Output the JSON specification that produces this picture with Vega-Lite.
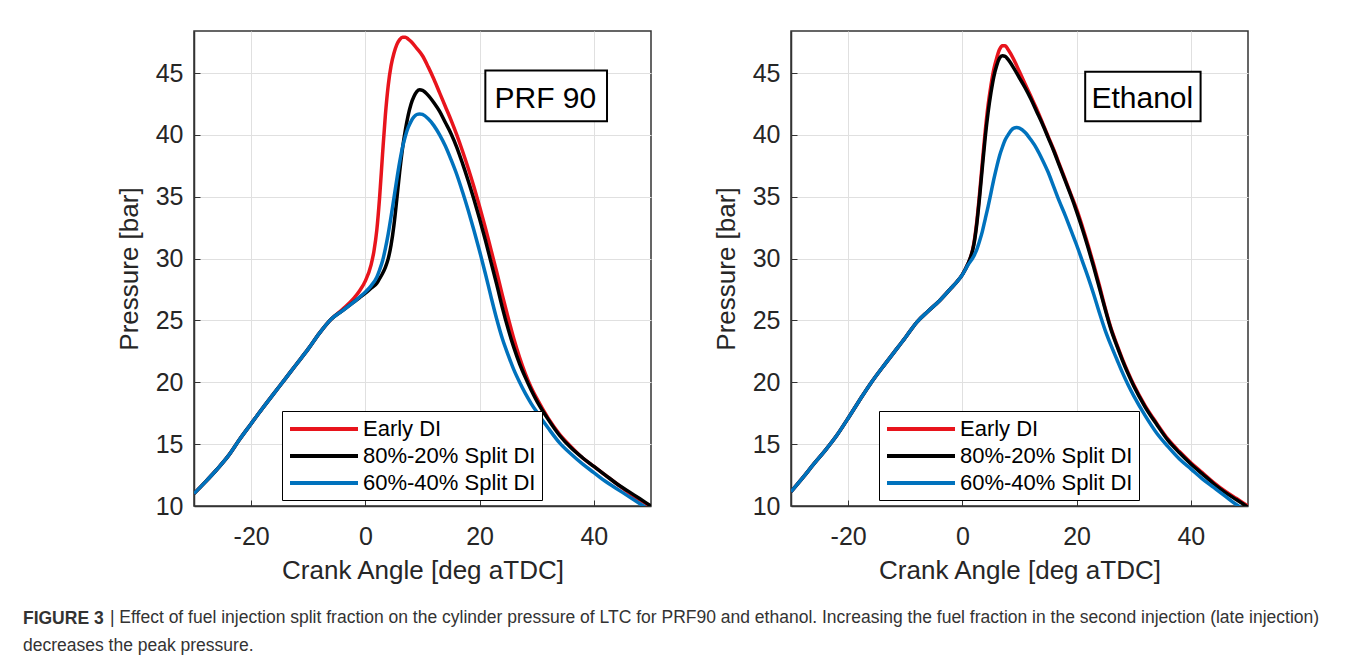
{
  "$schema": "https://vega.github.io/schema/vega-lite/v6.json",
  "padding": {"left": 22, "top": 30, "right": 4, "bottom": 5},
  "background": "white",
  "title": {
    "text": "decreases the peak pressure.",
    "orient": "bottom", "anchor": "start", "frame": "bounds", "offset": 10,
    "font": "Liberation Sans", "fontSize": 17.5, "fontWeight": "normal", "color": "#333333"
  },
  "datasets": {
    "pressure": [
      {"fuel": "PRF 90", "injection": "Early DI", "angle": -30, "pressure": 11.0},
      {"fuel": "PRF 90", "injection": "Early DI", "angle": -28, "pressure": 11.95},
      {"fuel": "PRF 90", "injection": "Early DI", "angle": -26, "pressure": 12.95},
      {"fuel": "PRF 90", "injection": "Early DI", "angle": -24, "pressure": 14.05},
      {"fuel": "PRF 90", "injection": "Early DI", "angle": -22, "pressure": 15.4},
      {"fuel": "PRF 90", "injection": "Early DI", "angle": -20, "pressure": 16.65},
      {"fuel": "PRF 90", "injection": "Early DI", "angle": -18, "pressure": 17.9},
      {"fuel": "PRF 90", "injection": "Early DI", "angle": -16, "pressure": 19.1},
      {"fuel": "PRF 90", "injection": "Early DI", "angle": -14, "pressure": 20.3},
      {"fuel": "PRF 90", "injection": "Early DI", "angle": -12, "pressure": 21.5},
      {"fuel": "PRF 90", "injection": "Early DI", "angle": -10, "pressure": 22.7},
      {"fuel": "PRF 90", "injection": "Early DI", "angle": -8, "pressure": 24.0},
      {"fuel": "PRF 90", "injection": "Early DI", "angle": -6, "pressure": 25.1},
      {"fuel": "PRF 90", "injection": "Early DI", "angle": -4, "pressure": 25.9},
      {"fuel": "PRF 90", "injection": "Early DI", "angle": -2, "pressure": 26.8},
      {"fuel": "PRF 90", "injection": "Early DI", "angle": -1, "pressure": 27.4},
      {"fuel": "PRF 90", "injection": "Early DI", "angle": 0, "pressure": 28.2},
      {"fuel": "PRF 90", "injection": "Early DI", "angle": 1, "pressure": 29.5},
      {"fuel": "PRF 90", "injection": "Early DI", "angle": 1.5, "pressure": 30.6},
      {"fuel": "PRF 90", "injection": "Early DI", "angle": 2, "pressure": 32.3},
      {"fuel": "PRF 90", "injection": "Early DI", "angle": 2.5, "pressure": 35.0},
      {"fuel": "PRF 90", "injection": "Early DI", "angle": 3, "pressure": 38.4},
      {"fuel": "PRF 90", "injection": "Early DI", "angle": 3.5, "pressure": 41.6},
      {"fuel": "PRF 90", "injection": "Early DI", "angle": 4, "pressure": 44.0},
      {"fuel": "PRF 90", "injection": "Early DI", "angle": 4.5, "pressure": 45.6},
      {"fuel": "PRF 90", "injection": "Early DI", "angle": 5, "pressure": 46.6},
      {"fuel": "PRF 90", "injection": "Early DI", "angle": 5.5, "pressure": 47.3},
      {"fuel": "PRF 90", "injection": "Early DI", "angle": 6, "pressure": 47.7},
      {"fuel": "PRF 90", "injection": "Early DI", "angle": 6.5, "pressure": 47.9},
      {"fuel": "PRF 90", "injection": "Early DI", "angle": 7, "pressure": 47.9},
      {"fuel": "PRF 90", "injection": "Early DI", "angle": 7.5, "pressure": 47.75},
      {"fuel": "PRF 90", "injection": "Early DI", "angle": 8, "pressure": 47.55},
      {"fuel": "PRF 90", "injection": "Early DI", "angle": 9, "pressure": 47.0},
      {"fuel": "PRF 90", "injection": "Early DI", "angle": 10, "pressure": 46.4},
      {"fuel": "PRF 90", "injection": "Early DI", "angle": 11, "pressure": 45.5},
      {"fuel": "PRF 90", "injection": "Early DI", "angle": 12, "pressure": 44.5},
      {"fuel": "PRF 90", "injection": "Early DI", "angle": 13, "pressure": 43.4},
      {"fuel": "PRF 90", "injection": "Early DI", "angle": 14, "pressure": 42.3},
      {"fuel": "PRF 90", "injection": "Early DI", "angle": 15, "pressure": 41.2},
      {"fuel": "PRF 90", "injection": "Early DI", "angle": 16, "pressure": 40.0},
      {"fuel": "PRF 90", "injection": "Early DI", "angle": 17, "pressure": 38.7},
      {"fuel": "PRF 90", "injection": "Early DI", "angle": 18, "pressure": 37.3},
      {"fuel": "PRF 90", "injection": "Early DI", "angle": 19, "pressure": 35.8},
      {"fuel": "PRF 90", "injection": "Early DI", "angle": 20, "pressure": 34.2},
      {"fuel": "PRF 90", "injection": "Early DI", "angle": 21, "pressure": 32.5},
      {"fuel": "PRF 90", "injection": "Early DI", "angle": 22, "pressure": 30.7},
      {"fuel": "PRF 90", "injection": "Early DI", "angle": 23, "pressure": 28.9},
      {"fuel": "PRF 90", "injection": "Early DI", "angle": 24, "pressure": 27.0},
      {"fuel": "PRF 90", "injection": "Early DI", "angle": 25, "pressure": 25.2},
      {"fuel": "PRF 90", "injection": "Early DI", "angle": 26, "pressure": 23.5},
      {"fuel": "PRF 90", "injection": "Early DI", "angle": 27, "pressure": 22.0},
      {"fuel": "PRF 90", "injection": "Early DI", "angle": 28, "pressure": 20.7},
      {"fuel": "PRF 90", "injection": "Early DI", "angle": 29, "pressure": 19.6},
      {"fuel": "PRF 90", "injection": "Early DI", "angle": 30, "pressure": 18.7},
      {"fuel": "PRF 90", "injection": "Early DI", "angle": 32, "pressure": 17.1},
      {"fuel": "PRF 90", "injection": "Early DI", "angle": 34, "pressure": 15.8},
      {"fuel": "PRF 90", "injection": "Early DI", "angle": 36, "pressure": 14.8},
      {"fuel": "PRF 90", "injection": "Early DI", "angle": 38, "pressure": 13.9},
      {"fuel": "PRF 90", "injection": "Early DI", "angle": 40, "pressure": 13.2},
      {"fuel": "PRF 90", "injection": "Early DI", "angle": 42, "pressure": 12.5},
      {"fuel": "PRF 90", "injection": "Early DI", "angle": 44, "pressure": 11.8},
      {"fuel": "PRF 90", "injection": "Early DI", "angle": 46, "pressure": 11.1},
      {"fuel": "PRF 90", "injection": "Early DI", "angle": 48, "pressure": 10.5},
      {"fuel": "PRF 90", "injection": "Early DI", "angle": 50, "pressure": 9.95},

      {"fuel": "PRF 90", "injection": "80%-20% Split DI", "angle": -30, "pressure": 11.0},
      {"fuel": "PRF 90", "injection": "80%-20% Split DI", "angle": -28, "pressure": 11.95},
      {"fuel": "PRF 90", "injection": "80%-20% Split DI", "angle": -26, "pressure": 12.95},
      {"fuel": "PRF 90", "injection": "80%-20% Split DI", "angle": -24, "pressure": 14.05},
      {"fuel": "PRF 90", "injection": "80%-20% Split DI", "angle": -22, "pressure": 15.4},
      {"fuel": "PRF 90", "injection": "80%-20% Split DI", "angle": -20, "pressure": 16.65},
      {"fuel": "PRF 90", "injection": "80%-20% Split DI", "angle": -18, "pressure": 17.9},
      {"fuel": "PRF 90", "injection": "80%-20% Split DI", "angle": -16, "pressure": 19.1},
      {"fuel": "PRF 90", "injection": "80%-20% Split DI", "angle": -14, "pressure": 20.3},
      {"fuel": "PRF 90", "injection": "80%-20% Split DI", "angle": -12, "pressure": 21.5},
      {"fuel": "PRF 90", "injection": "80%-20% Split DI", "angle": -10, "pressure": 22.7},
      {"fuel": "PRF 90", "injection": "80%-20% Split DI", "angle": -8, "pressure": 24.0},
      {"fuel": "PRF 90", "injection": "80%-20% Split DI", "angle": -6, "pressure": 25.1},
      {"fuel": "PRF 90", "injection": "80%-20% Split DI", "angle": -4, "pressure": 25.8},
      {"fuel": "PRF 90", "injection": "80%-20% Split DI", "angle": -2, "pressure": 26.5},
      {"fuel": "PRF 90", "injection": "80%-20% Split DI", "angle": -1, "pressure": 26.85},
      {"fuel": "PRF 90", "injection": "80%-20% Split DI", "angle": 0, "pressure": 27.2},
      {"fuel": "PRF 90", "injection": "80%-20% Split DI", "angle": 1, "pressure": 27.6},
      {"fuel": "PRF 90", "injection": "80%-20% Split DI", "angle": 2, "pressure": 28.0},
      {"fuel": "PRF 90", "injection": "80%-20% Split DI", "angle": 2.5, "pressure": 28.4},
      {"fuel": "PRF 90", "injection": "80%-20% Split DI", "angle": 3, "pressure": 28.8},
      {"fuel": "PRF 90", "injection": "80%-20% Split DI", "angle": 3.5, "pressure": 29.3},
      {"fuel": "PRF 90", "injection": "80%-20% Split DI", "angle": 4, "pressure": 30.0},
      {"fuel": "PRF 90", "injection": "80%-20% Split DI", "angle": 4.5, "pressure": 31.1},
      {"fuel": "PRF 90", "injection": "80%-20% Split DI", "angle": 5, "pressure": 32.7},
      {"fuel": "PRF 90", "injection": "80%-20% Split DI", "angle": 5.5, "pressure": 34.8},
      {"fuel": "PRF 90", "injection": "80%-20% Split DI", "angle": 6, "pressure": 37.0},
      {"fuel": "PRF 90", "injection": "80%-20% Split DI", "angle": 6.5, "pressure": 38.9},
      {"fuel": "PRF 90", "injection": "80%-20% Split DI", "angle": 7, "pressure": 40.4},
      {"fuel": "PRF 90", "injection": "80%-20% Split DI", "angle": 7.5, "pressure": 41.6},
      {"fuel": "PRF 90", "injection": "80%-20% Split DI", "angle": 8, "pressure": 42.5},
      {"fuel": "PRF 90", "injection": "80%-20% Split DI", "angle": 8.5, "pressure": 43.1},
      {"fuel": "PRF 90", "injection": "80%-20% Split DI", "angle": 9, "pressure": 43.5},
      {"fuel": "PRF 90", "injection": "80%-20% Split DI", "angle": 9.5, "pressure": 43.65},
      {"fuel": "PRF 90", "injection": "80%-20% Split DI", "angle": 10, "pressure": 43.6},
      {"fuel": "PRF 90", "injection": "80%-20% Split DI", "angle": 11, "pressure": 43.2},
      {"fuel": "PRF 90", "injection": "80%-20% Split DI", "angle": 12, "pressure": 42.6},
      {"fuel": "PRF 90", "injection": "80%-20% Split DI", "angle": 13, "pressure": 41.9},
      {"fuel": "PRF 90", "injection": "80%-20% Split DI", "angle": 14, "pressure": 41.0},
      {"fuel": "PRF 90", "injection": "80%-20% Split DI", "angle": 15, "pressure": 40.1},
      {"fuel": "PRF 90", "injection": "80%-20% Split DI", "angle": 16, "pressure": 39.0},
      {"fuel": "PRF 90", "injection": "80%-20% Split DI", "angle": 17, "pressure": 37.7},
      {"fuel": "PRF 90", "injection": "80%-20% Split DI", "angle": 18, "pressure": 36.3},
      {"fuel": "PRF 90", "injection": "80%-20% Split DI", "angle": 19, "pressure": 34.8},
      {"fuel": "PRF 90", "injection": "80%-20% Split DI", "angle": 20, "pressure": 33.2},
      {"fuel": "PRF 90", "injection": "80%-20% Split DI", "angle": 21, "pressure": 31.5},
      {"fuel": "PRF 90", "injection": "80%-20% Split DI", "angle": 22, "pressure": 29.7},
      {"fuel": "PRF 90", "injection": "80%-20% Split DI", "angle": 23, "pressure": 27.9},
      {"fuel": "PRF 90", "injection": "80%-20% Split DI", "angle": 24, "pressure": 26.0},
      {"fuel": "PRF 90", "injection": "80%-20% Split DI", "angle": 25, "pressure": 24.3},
      {"fuel": "PRF 90", "injection": "80%-20% Split DI", "angle": 26, "pressure": 22.8},
      {"fuel": "PRF 90", "injection": "80%-20% Split DI", "angle": 27, "pressure": 21.5},
      {"fuel": "PRF 90", "injection": "80%-20% Split DI", "angle": 28, "pressure": 20.4},
      {"fuel": "PRF 90", "injection": "80%-20% Split DI", "angle": 29, "pressure": 19.4},
      {"fuel": "PRF 90", "injection": "80%-20% Split DI", "angle": 30, "pressure": 18.5},
      {"fuel": "PRF 90", "injection": "80%-20% Split DI", "angle": 32, "pressure": 17.0},
      {"fuel": "PRF 90", "injection": "80%-20% Split DI", "angle": 34, "pressure": 15.7},
      {"fuel": "PRF 90", "injection": "80%-20% Split DI", "angle": 36, "pressure": 14.7},
      {"fuel": "PRF 90", "injection": "80%-20% Split DI", "angle": 38, "pressure": 13.9},
      {"fuel": "PRF 90", "injection": "80%-20% Split DI", "angle": 40, "pressure": 13.2},
      {"fuel": "PRF 90", "injection": "80%-20% Split DI", "angle": 42, "pressure": 12.5},
      {"fuel": "PRF 90", "injection": "80%-20% Split DI", "angle": 44, "pressure": 11.8},
      {"fuel": "PRF 90", "injection": "80%-20% Split DI", "angle": 46, "pressure": 11.2},
      {"fuel": "PRF 90", "injection": "80%-20% Split DI", "angle": 48, "pressure": 10.6},
      {"fuel": "PRF 90", "injection": "80%-20% Split DI", "angle": 50, "pressure": 10.0},

      {"fuel": "PRF 90", "injection": "60%-40% Split DI", "angle": -30, "pressure": 11.0},
      {"fuel": "PRF 90", "injection": "60%-40% Split DI", "angle": -28, "pressure": 11.95},
      {"fuel": "PRF 90", "injection": "60%-40% Split DI", "angle": -26, "pressure": 12.95},
      {"fuel": "PRF 90", "injection": "60%-40% Split DI", "angle": -24, "pressure": 14.05},
      {"fuel": "PRF 90", "injection": "60%-40% Split DI", "angle": -22, "pressure": 15.4},
      {"fuel": "PRF 90", "injection": "60%-40% Split DI", "angle": -20, "pressure": 16.65},
      {"fuel": "PRF 90", "injection": "60%-40% Split DI", "angle": -18, "pressure": 17.9},
      {"fuel": "PRF 90", "injection": "60%-40% Split DI", "angle": -16, "pressure": 19.1},
      {"fuel": "PRF 90", "injection": "60%-40% Split DI", "angle": -14, "pressure": 20.3},
      {"fuel": "PRF 90", "injection": "60%-40% Split DI", "angle": -12, "pressure": 21.5},
      {"fuel": "PRF 90", "injection": "60%-40% Split DI", "angle": -10, "pressure": 22.7},
      {"fuel": "PRF 90", "injection": "60%-40% Split DI", "angle": -8, "pressure": 24.0},
      {"fuel": "PRF 90", "injection": "60%-40% Split DI", "angle": -6, "pressure": 25.1},
      {"fuel": "PRF 90", "injection": "60%-40% Split DI", "angle": -4, "pressure": 25.8},
      {"fuel": "PRF 90", "injection": "60%-40% Split DI", "angle": -2, "pressure": 26.5},
      {"fuel": "PRF 90", "injection": "60%-40% Split DI", "angle": -1, "pressure": 26.9},
      {"fuel": "PRF 90", "injection": "60%-40% Split DI", "angle": 0, "pressure": 27.3},
      {"fuel": "PRF 90", "injection": "60%-40% Split DI", "angle": 1, "pressure": 27.8},
      {"fuel": "PRF 90", "injection": "60%-40% Split DI", "angle": 2, "pressure": 28.5},
      {"fuel": "PRF 90", "injection": "60%-40% Split DI", "angle": 2.5, "pressure": 29.1},
      {"fuel": "PRF 90", "injection": "60%-40% Split DI", "angle": 3, "pressure": 29.8},
      {"fuel": "PRF 90", "injection": "60%-40% Split DI", "angle": 3.5, "pressure": 30.8},
      {"fuel": "PRF 90", "injection": "60%-40% Split DI", "angle": 4, "pressure": 32.0},
      {"fuel": "PRF 90", "injection": "60%-40% Split DI", "angle": 4.5, "pressure": 33.4},
      {"fuel": "PRF 90", "injection": "60%-40% Split DI", "angle": 5, "pressure": 34.9},
      {"fuel": "PRF 90", "injection": "60%-40% Split DI", "angle": 5.5, "pressure": 36.4},
      {"fuel": "PRF 90", "injection": "60%-40% Split DI", "angle": 6, "pressure": 37.8},
      {"fuel": "PRF 90", "injection": "60%-40% Split DI", "angle": 6.5, "pressure": 39.0},
      {"fuel": "PRF 90", "injection": "60%-40% Split DI", "angle": 7, "pressure": 39.9},
      {"fuel": "PRF 90", "injection": "60%-40% Split DI", "angle": 7.5, "pressure": 40.6},
      {"fuel": "PRF 90", "injection": "60%-40% Split DI", "angle": 8, "pressure": 41.1},
      {"fuel": "PRF 90", "injection": "60%-40% Split DI", "angle": 8.5, "pressure": 41.45},
      {"fuel": "PRF 90", "injection": "60%-40% Split DI", "angle": 9, "pressure": 41.65},
      {"fuel": "PRF 90", "injection": "60%-40% Split DI", "angle": 9.5, "pressure": 41.7},
      {"fuel": "PRF 90", "injection": "60%-40% Split DI", "angle": 10, "pressure": 41.65},
      {"fuel": "PRF 90", "injection": "60%-40% Split DI", "angle": 11, "pressure": 41.3},
      {"fuel": "PRF 90", "injection": "60%-40% Split DI", "angle": 12, "pressure": 40.75},
      {"fuel": "PRF 90", "injection": "60%-40% Split DI", "angle": 13, "pressure": 40.0},
      {"fuel": "PRF 90", "injection": "60%-40% Split DI", "angle": 14, "pressure": 39.1},
      {"fuel": "PRF 90", "injection": "60%-40% Split DI", "angle": 15, "pressure": 38.0},
      {"fuel": "PRF 90", "injection": "60%-40% Split DI", "angle": 16, "pressure": 36.8},
      {"fuel": "PRF 90", "injection": "60%-40% Split DI", "angle": 17, "pressure": 35.4},
      {"fuel": "PRF 90", "injection": "60%-40% Split DI", "angle": 18, "pressure": 33.9},
      {"fuel": "PRF 90", "injection": "60%-40% Split DI", "angle": 19, "pressure": 32.3},
      {"fuel": "PRF 90", "injection": "60%-40% Split DI", "angle": 20, "pressure": 30.6},
      {"fuel": "PRF 90", "injection": "60%-40% Split DI", "angle": 21, "pressure": 28.8},
      {"fuel": "PRF 90", "injection": "60%-40% Split DI", "angle": 22, "pressure": 26.9},
      {"fuel": "PRF 90", "injection": "60%-40% Split DI", "angle": 23, "pressure": 25.1},
      {"fuel": "PRF 90", "injection": "60%-40% Split DI", "angle": 24, "pressure": 23.5},
      {"fuel": "PRF 90", "injection": "60%-40% Split DI", "angle": 25, "pressure": 22.2},
      {"fuel": "PRF 90", "injection": "60%-40% Split DI", "angle": 26, "pressure": 21.0},
      {"fuel": "PRF 90", "injection": "60%-40% Split DI", "angle": 27, "pressure": 20.0},
      {"fuel": "PRF 90", "injection": "60%-40% Split DI", "angle": 28, "pressure": 19.1},
      {"fuel": "PRF 90", "injection": "60%-40% Split DI", "angle": 29, "pressure": 18.3},
      {"fuel": "PRF 90", "injection": "60%-40% Split DI", "angle": 30, "pressure": 17.6},
      {"fuel": "PRF 90", "injection": "60%-40% Split DI", "angle": 32, "pressure": 16.3},
      {"fuel": "PRF 90", "injection": "60%-40% Split DI", "angle": 34, "pressure": 15.1},
      {"fuel": "PRF 90", "injection": "60%-40% Split DI", "angle": 36, "pressure": 14.2},
      {"fuel": "PRF 90", "injection": "60%-40% Split DI", "angle": 38, "pressure": 13.4},
      {"fuel": "PRF 90", "injection": "60%-40% Split DI", "angle": 40, "pressure": 12.7},
      {"fuel": "PRF 90", "injection": "60%-40% Split DI", "angle": 42, "pressure": 12.0},
      {"fuel": "PRF 90", "injection": "60%-40% Split DI", "angle": 44, "pressure": 11.4},
      {"fuel": "PRF 90", "injection": "60%-40% Split DI", "angle": 46, "pressure": 10.8},
      {"fuel": "PRF 90", "injection": "60%-40% Split DI", "angle": 48, "pressure": 10.2},
      {"fuel": "PRF 90", "injection": "60%-40% Split DI", "angle": 50, "pressure": 9.6},

      {"fuel": "Ethanol", "injection": "Early DI", "angle": -30, "pressure": 11.15},
      {"fuel": "Ethanol", "injection": "Early DI", "angle": -28, "pressure": 12.25},
      {"fuel": "Ethanol", "injection": "Early DI", "angle": -26, "pressure": 13.4},
      {"fuel": "Ethanol", "injection": "Early DI", "angle": -24, "pressure": 14.5},
      {"fuel": "Ethanol", "injection": "Early DI", "angle": -22, "pressure": 15.7},
      {"fuel": "Ethanol", "injection": "Early DI", "angle": -20, "pressure": 17.1},
      {"fuel": "Ethanol", "injection": "Early DI", "angle": -18, "pressure": 18.55},
      {"fuel": "Ethanol", "injection": "Early DI", "angle": -16, "pressure": 19.95},
      {"fuel": "Ethanol", "injection": "Early DI", "angle": -14, "pressure": 21.2},
      {"fuel": "Ethanol", "injection": "Early DI", "angle": -12, "pressure": 22.4},
      {"fuel": "Ethanol", "injection": "Early DI", "angle": -10, "pressure": 23.6},
      {"fuel": "Ethanol", "injection": "Early DI", "angle": -8, "pressure": 24.85},
      {"fuel": "Ethanol", "injection": "Early DI", "angle": -6, "pressure": 25.75},
      {"fuel": "Ethanol", "injection": "Early DI", "angle": -4, "pressure": 26.6},
      {"fuel": "Ethanol", "injection": "Early DI", "angle": -2, "pressure": 27.6},
      {"fuel": "Ethanol", "injection": "Early DI", "angle": -1, "pressure": 28.1},
      {"fuel": "Ethanol", "injection": "Early DI", "angle": 0, "pressure": 28.7},
      {"fuel": "Ethanol", "injection": "Early DI", "angle": 1, "pressure": 29.6},
      {"fuel": "Ethanol", "injection": "Early DI", "angle": 1.5, "pressure": 30.2},
      {"fuel": "Ethanol", "injection": "Early DI", "angle": 2, "pressure": 31.2},
      {"fuel": "Ethanol", "injection": "Early DI", "angle": 2.5, "pressure": 32.9},
      {"fuel": "Ethanol", "injection": "Early DI", "angle": 3, "pressure": 35.2},
      {"fuel": "Ethanol", "injection": "Early DI", "angle": 3.5, "pressure": 37.8},
      {"fuel": "Ethanol", "injection": "Early DI", "angle": 4, "pressure": 40.3},
      {"fuel": "Ethanol", "injection": "Early DI", "angle": 4.5, "pressure": 42.4},
      {"fuel": "Ethanol", "injection": "Early DI", "angle": 5, "pressure": 44.0},
      {"fuel": "Ethanol", "injection": "Early DI", "angle": 5.5, "pressure": 45.3},
      {"fuel": "Ethanol", "injection": "Early DI", "angle": 6, "pressure": 46.2},
      {"fuel": "Ethanol", "injection": "Early DI", "angle": 6.5, "pressure": 46.9},
      {"fuel": "Ethanol", "injection": "Early DI", "angle": 7, "pressure": 47.2},
      {"fuel": "Ethanol", "injection": "Early DI", "angle": 7.5, "pressure": 47.2},
      {"fuel": "Ethanol", "injection": "Early DI", "angle": 8, "pressure": 46.9},
      {"fuel": "Ethanol", "injection": "Early DI", "angle": 9, "pressure": 46.1},
      {"fuel": "Ethanol", "injection": "Early DI", "angle": 10, "pressure": 45.1},
      {"fuel": "Ethanol", "injection": "Early DI", "angle": 11, "pressure": 44.1},
      {"fuel": "Ethanol", "injection": "Early DI", "angle": 12, "pressure": 43.1},
      {"fuel": "Ethanol", "injection": "Early DI", "angle": 13, "pressure": 42.1},
      {"fuel": "Ethanol", "injection": "Early DI", "angle": 14, "pressure": 41.0},
      {"fuel": "Ethanol", "injection": "Early DI", "angle": 15, "pressure": 39.9},
      {"fuel": "Ethanol", "injection": "Early DI", "angle": 16, "pressure": 38.8},
      {"fuel": "Ethanol", "injection": "Early DI", "angle": 17, "pressure": 37.6},
      {"fuel": "Ethanol", "injection": "Early DI", "angle": 18, "pressure": 36.4},
      {"fuel": "Ethanol", "injection": "Early DI", "angle": 19, "pressure": 35.2},
      {"fuel": "Ethanol", "injection": "Early DI", "angle": 20, "pressure": 34.0},
      {"fuel": "Ethanol", "injection": "Early DI", "angle": 21, "pressure": 32.6},
      {"fuel": "Ethanol", "injection": "Early DI", "angle": 22, "pressure": 31.1},
      {"fuel": "Ethanol", "injection": "Early DI", "angle": 23, "pressure": 29.5},
      {"fuel": "Ethanol", "injection": "Early DI", "angle": 24, "pressure": 27.8},
      {"fuel": "Ethanol", "injection": "Early DI", "angle": 25, "pressure": 26.0},
      {"fuel": "Ethanol", "injection": "Early DI", "angle": 26, "pressure": 24.4},
      {"fuel": "Ethanol", "injection": "Early DI", "angle": 27, "pressure": 23.1},
      {"fuel": "Ethanol", "injection": "Early DI", "angle": 28, "pressure": 21.9},
      {"fuel": "Ethanol", "injection": "Early DI", "angle": 29, "pressure": 20.8},
      {"fuel": "Ethanol", "injection": "Early DI", "angle": 30, "pressure": 19.8},
      {"fuel": "Ethanol", "injection": "Early DI", "angle": 32, "pressure": 18.1},
      {"fuel": "Ethanol", "injection": "Early DI", "angle": 34, "pressure": 16.7},
      {"fuel": "Ethanol", "injection": "Early DI", "angle": 36, "pressure": 15.4},
      {"fuel": "Ethanol", "injection": "Early DI", "angle": 38, "pressure": 14.4},
      {"fuel": "Ethanol", "injection": "Early DI", "angle": 40, "pressure": 13.5},
      {"fuel": "Ethanol", "injection": "Early DI", "angle": 42, "pressure": 12.7},
      {"fuel": "Ethanol", "injection": "Early DI", "angle": 44, "pressure": 11.9},
      {"fuel": "Ethanol", "injection": "Early DI", "angle": 46, "pressure": 11.2},
      {"fuel": "Ethanol", "injection": "Early DI", "angle": 48, "pressure": 10.6},
      {"fuel": "Ethanol", "injection": "Early DI", "angle": 50, "pressure": 10.0},

      {"fuel": "Ethanol", "injection": "80%-20% Split DI", "angle": -30, "pressure": 11.15},
      {"fuel": "Ethanol", "injection": "80%-20% Split DI", "angle": -28, "pressure": 12.25},
      {"fuel": "Ethanol", "injection": "80%-20% Split DI", "angle": -26, "pressure": 13.4},
      {"fuel": "Ethanol", "injection": "80%-20% Split DI", "angle": -24, "pressure": 14.5},
      {"fuel": "Ethanol", "injection": "80%-20% Split DI", "angle": -22, "pressure": 15.7},
      {"fuel": "Ethanol", "injection": "80%-20% Split DI", "angle": -20, "pressure": 17.1},
      {"fuel": "Ethanol", "injection": "80%-20% Split DI", "angle": -18, "pressure": 18.55},
      {"fuel": "Ethanol", "injection": "80%-20% Split DI", "angle": -16, "pressure": 19.95},
      {"fuel": "Ethanol", "injection": "80%-20% Split DI", "angle": -14, "pressure": 21.2},
      {"fuel": "Ethanol", "injection": "80%-20% Split DI", "angle": -12, "pressure": 22.4},
      {"fuel": "Ethanol", "injection": "80%-20% Split DI", "angle": -10, "pressure": 23.6},
      {"fuel": "Ethanol", "injection": "80%-20% Split DI", "angle": -8, "pressure": 24.85},
      {"fuel": "Ethanol", "injection": "80%-20% Split DI", "angle": -6, "pressure": 25.75},
      {"fuel": "Ethanol", "injection": "80%-20% Split DI", "angle": -4, "pressure": 26.6},
      {"fuel": "Ethanol", "injection": "80%-20% Split DI", "angle": -2, "pressure": 27.6},
      {"fuel": "Ethanol", "injection": "80%-20% Split DI", "angle": -1, "pressure": 28.1},
      {"fuel": "Ethanol", "injection": "80%-20% Split DI", "angle": 0, "pressure": 28.7},
      {"fuel": "Ethanol", "injection": "80%-20% Split DI", "angle": 1, "pressure": 29.6},
      {"fuel": "Ethanol", "injection": "80%-20% Split DI", "angle": 1.5, "pressure": 30.2},
      {"fuel": "Ethanol", "injection": "80%-20% Split DI", "angle": 2, "pressure": 31.1},
      {"fuel": "Ethanol", "injection": "80%-20% Split DI", "angle": 2.5, "pressure": 32.7},
      {"fuel": "Ethanol", "injection": "80%-20% Split DI", "angle": 3, "pressure": 34.9},
      {"fuel": "Ethanol", "injection": "80%-20% Split DI", "angle": 3.5, "pressure": 37.4},
      {"fuel": "Ethanol", "injection": "80%-20% Split DI", "angle": 4, "pressure": 39.8},
      {"fuel": "Ethanol", "injection": "80%-20% Split DI", "angle": 4.5, "pressure": 41.8},
      {"fuel": "Ethanol", "injection": "80%-20% Split DI", "angle": 5, "pressure": 43.4},
      {"fuel": "Ethanol", "injection": "80%-20% Split DI", "angle": 5.5, "pressure": 44.7},
      {"fuel": "Ethanol", "injection": "80%-20% Split DI", "angle": 6, "pressure": 45.6},
      {"fuel": "Ethanol", "injection": "80%-20% Split DI", "angle": 6.5, "pressure": 46.2},
      {"fuel": "Ethanol", "injection": "80%-20% Split DI", "angle": 7, "pressure": 46.4},
      {"fuel": "Ethanol", "injection": "80%-20% Split DI", "angle": 7.5, "pressure": 46.35},
      {"fuel": "Ethanol", "injection": "80%-20% Split DI", "angle": 8, "pressure": 46.1},
      {"fuel": "Ethanol", "injection": "80%-20% Split DI", "angle": 9, "pressure": 45.4},
      {"fuel": "Ethanol", "injection": "80%-20% Split DI", "angle": 10, "pressure": 44.6},
      {"fuel": "Ethanol", "injection": "80%-20% Split DI", "angle": 11, "pressure": 43.8},
      {"fuel": "Ethanol", "injection": "80%-20% Split DI", "angle": 12, "pressure": 42.9},
      {"fuel": "Ethanol", "injection": "80%-20% Split DI", "angle": 13, "pressure": 41.9},
      {"fuel": "Ethanol", "injection": "80%-20% Split DI", "angle": 14, "pressure": 40.9},
      {"fuel": "Ethanol", "injection": "80%-20% Split DI", "angle": 15, "pressure": 39.8},
      {"fuel": "Ethanol", "injection": "80%-20% Split DI", "angle": 16, "pressure": 38.7},
      {"fuel": "Ethanol", "injection": "80%-20% Split DI", "angle": 17, "pressure": 37.5},
      {"fuel": "Ethanol", "injection": "80%-20% Split DI", "angle": 18, "pressure": 36.3},
      {"fuel": "Ethanol", "injection": "80%-20% Split DI", "angle": 19, "pressure": 35.1},
      {"fuel": "Ethanol", "injection": "80%-20% Split DI", "angle": 20, "pressure": 33.8},
      {"fuel": "Ethanol", "injection": "80%-20% Split DI", "angle": 21, "pressure": 32.4},
      {"fuel": "Ethanol", "injection": "80%-20% Split DI", "angle": 22, "pressure": 30.9},
      {"fuel": "Ethanol", "injection": "80%-20% Split DI", "angle": 23, "pressure": 29.3},
      {"fuel": "Ethanol", "injection": "80%-20% Split DI", "angle": 24, "pressure": 27.6},
      {"fuel": "Ethanol", "injection": "80%-20% Split DI", "angle": 25, "pressure": 25.9},
      {"fuel": "Ethanol", "injection": "80%-20% Split DI", "angle": 26, "pressure": 24.3},
      {"fuel": "Ethanol", "injection": "80%-20% Split DI", "angle": 27, "pressure": 23.0},
      {"fuel": "Ethanol", "injection": "80%-20% Split DI", "angle": 28, "pressure": 21.8},
      {"fuel": "Ethanol", "injection": "80%-20% Split DI", "angle": 29, "pressure": 20.7},
      {"fuel": "Ethanol", "injection": "80%-20% Split DI", "angle": 30, "pressure": 19.7},
      {"fuel": "Ethanol", "injection": "80%-20% Split DI", "angle": 32, "pressure": 18.0},
      {"fuel": "Ethanol", "injection": "80%-20% Split DI", "angle": 34, "pressure": 16.6},
      {"fuel": "Ethanol", "injection": "80%-20% Split DI", "angle": 36, "pressure": 15.3},
      {"fuel": "Ethanol", "injection": "80%-20% Split DI", "angle": 38, "pressure": 14.3},
      {"fuel": "Ethanol", "injection": "80%-20% Split DI", "angle": 40, "pressure": 13.4},
      {"fuel": "Ethanol", "injection": "80%-20% Split DI", "angle": 42, "pressure": 12.6},
      {"fuel": "Ethanol", "injection": "80%-20% Split DI", "angle": 44, "pressure": 11.8},
      {"fuel": "Ethanol", "injection": "80%-20% Split DI", "angle": 46, "pressure": 11.1},
      {"fuel": "Ethanol", "injection": "80%-20% Split DI", "angle": 48, "pressure": 10.5},
      {"fuel": "Ethanol", "injection": "80%-20% Split DI", "angle": 50, "pressure": 9.9},

      {"fuel": "Ethanol", "injection": "60%-40% Split DI", "angle": -30, "pressure": 11.15},
      {"fuel": "Ethanol", "injection": "60%-40% Split DI", "angle": -28, "pressure": 12.25},
      {"fuel": "Ethanol", "injection": "60%-40% Split DI", "angle": -26, "pressure": 13.4},
      {"fuel": "Ethanol", "injection": "60%-40% Split DI", "angle": -24, "pressure": 14.5},
      {"fuel": "Ethanol", "injection": "60%-40% Split DI", "angle": -22, "pressure": 15.7},
      {"fuel": "Ethanol", "injection": "60%-40% Split DI", "angle": -20, "pressure": 17.1},
      {"fuel": "Ethanol", "injection": "60%-40% Split DI", "angle": -18, "pressure": 18.55},
      {"fuel": "Ethanol", "injection": "60%-40% Split DI", "angle": -16, "pressure": 19.95},
      {"fuel": "Ethanol", "injection": "60%-40% Split DI", "angle": -14, "pressure": 21.2},
      {"fuel": "Ethanol", "injection": "60%-40% Split DI", "angle": -12, "pressure": 22.4},
      {"fuel": "Ethanol", "injection": "60%-40% Split DI", "angle": -10, "pressure": 23.6},
      {"fuel": "Ethanol", "injection": "60%-40% Split DI", "angle": -8, "pressure": 24.85},
      {"fuel": "Ethanol", "injection": "60%-40% Split DI", "angle": -6, "pressure": 25.75},
      {"fuel": "Ethanol", "injection": "60%-40% Split DI", "angle": -4, "pressure": 26.6},
      {"fuel": "Ethanol", "injection": "60%-40% Split DI", "angle": -2, "pressure": 27.6},
      {"fuel": "Ethanol", "injection": "60%-40% Split DI", "angle": -1, "pressure": 28.1},
      {"fuel": "Ethanol", "injection": "60%-40% Split DI", "angle": 0, "pressure": 28.7},
      {"fuel": "Ethanol", "injection": "60%-40% Split DI", "angle": 1, "pressure": 29.5},
      {"fuel": "Ethanol", "injection": "60%-40% Split DI", "angle": 2, "pressure": 30.2},
      {"fuel": "Ethanol", "injection": "60%-40% Split DI", "angle": 2.5, "pressure": 30.7},
      {"fuel": "Ethanol", "injection": "60%-40% Split DI", "angle": 3, "pressure": 31.4},
      {"fuel": "Ethanol", "injection": "60%-40% Split DI", "angle": 3.5, "pressure": 32.2},
      {"fuel": "Ethanol", "injection": "60%-40% Split DI", "angle": 4, "pressure": 33.2},
      {"fuel": "Ethanol", "injection": "60%-40% Split DI", "angle": 4.5, "pressure": 34.2},
      {"fuel": "Ethanol", "injection": "60%-40% Split DI", "angle": 5, "pressure": 35.3},
      {"fuel": "Ethanol", "injection": "60%-40% Split DI", "angle": 5.5, "pressure": 36.4},
      {"fuel": "Ethanol", "injection": "60%-40% Split DI", "angle": 6, "pressure": 37.4},
      {"fuel": "Ethanol", "injection": "60%-40% Split DI", "angle": 6.5, "pressure": 38.3},
      {"fuel": "Ethanol", "injection": "60%-40% Split DI", "angle": 7, "pressure": 39.0},
      {"fuel": "Ethanol", "injection": "60%-40% Split DI", "angle": 7.5, "pressure": 39.6},
      {"fuel": "Ethanol", "injection": "60%-40% Split DI", "angle": 8, "pressure": 40.0},
      {"fuel": "Ethanol", "injection": "60%-40% Split DI", "angle": 8.5, "pressure": 40.35},
      {"fuel": "Ethanol", "injection": "60%-40% Split DI", "angle": 9, "pressure": 40.55},
      {"fuel": "Ethanol", "injection": "60%-40% Split DI", "angle": 9.5, "pressure": 40.6},
      {"fuel": "Ethanol", "injection": "60%-40% Split DI", "angle": 10, "pressure": 40.55},
      {"fuel": "Ethanol", "injection": "60%-40% Split DI", "angle": 11, "pressure": 40.2},
      {"fuel": "Ethanol", "injection": "60%-40% Split DI", "angle": 12, "pressure": 39.6},
      {"fuel": "Ethanol", "injection": "60%-40% Split DI", "angle": 13, "pressure": 38.9},
      {"fuel": "Ethanol", "injection": "60%-40% Split DI", "angle": 14, "pressure": 38.0},
      {"fuel": "Ethanol", "injection": "60%-40% Split DI", "angle": 15, "pressure": 37.0},
      {"fuel": "Ethanol", "injection": "60%-40% Split DI", "angle": 16, "pressure": 35.8},
      {"fuel": "Ethanol", "injection": "60%-40% Split DI", "angle": 17, "pressure": 34.6},
      {"fuel": "Ethanol", "injection": "60%-40% Split DI", "angle": 18, "pressure": 33.5},
      {"fuel": "Ethanol", "injection": "60%-40% Split DI", "angle": 19, "pressure": 32.3},
      {"fuel": "Ethanol", "injection": "60%-40% Split DI", "angle": 20, "pressure": 31.1},
      {"fuel": "Ethanol", "injection": "60%-40% Split DI", "angle": 21, "pressure": 29.8},
      {"fuel": "Ethanol", "injection": "60%-40% Split DI", "angle": 22, "pressure": 28.5},
      {"fuel": "Ethanol", "injection": "60%-40% Split DI", "angle": 23, "pressure": 27.1},
      {"fuel": "Ethanol", "injection": "60%-40% Split DI", "angle": 24, "pressure": 25.6},
      {"fuel": "Ethanol", "injection": "60%-40% Split DI", "angle": 25, "pressure": 24.2},
      {"fuel": "Ethanol", "injection": "60%-40% Split DI", "angle": 26, "pressure": 23.0},
      {"fuel": "Ethanol", "injection": "60%-40% Split DI", "angle": 27, "pressure": 21.9},
      {"fuel": "Ethanol", "injection": "60%-40% Split DI", "angle": 28, "pressure": 20.8},
      {"fuel": "Ethanol", "injection": "60%-40% Split DI", "angle": 29, "pressure": 19.8},
      {"fuel": "Ethanol", "injection": "60%-40% Split DI", "angle": 30, "pressure": 18.9},
      {"fuel": "Ethanol", "injection": "60%-40% Split DI", "angle": 32, "pressure": 17.3},
      {"fuel": "Ethanol", "injection": "60%-40% Split DI", "angle": 34, "pressure": 15.9},
      {"fuel": "Ethanol", "injection": "60%-40% Split DI", "angle": 36, "pressure": 14.8},
      {"fuel": "Ethanol", "injection": "60%-40% Split DI", "angle": 38, "pressure": 13.8},
      {"fuel": "Ethanol", "injection": "60%-40% Split DI", "angle": 40, "pressure": 13.0},
      {"fuel": "Ethanol", "injection": "60%-40% Split DI", "angle": 42, "pressure": 12.2},
      {"fuel": "Ethanol", "injection": "60%-40% Split DI", "angle": 44, "pressure": 11.5},
      {"fuel": "Ethanol", "injection": "60%-40% Split DI", "angle": 46, "pressure": 10.8},
      {"fuel": "Ethanol", "injection": "60%-40% Split DI", "angle": 48, "pressure": 10.1},
      {"fuel": "Ethanol", "injection": "60%-40% Split DI", "angle": 50, "pressure": 9.5}
    ]
  },
  "vconcat": [
    {
      "title": {
        "text": "| Effect of fuel injection split fraction on the cylinder pressure of LTC for PRF90 and ethanol. Increasing the fuel fraction in the second injection (late injection)",
        "orient": "bottom", "anchor": "start", "frame": "bounds", "offset": 0, "dx": 87, "dy": -18,
        "font": "Liberation Sans", "fontSize": 17.5, "fontWeight": "normal", "color": "#333333"
      },
      "vconcat": [
        {
          "title": {
            "text": "FIGURE 3", "orient": "bottom", "anchor": "start", "frame": "bounds", "offset": 26, "dx": -92.5,
            "font": "Liberation Sans", "fontSize": 17.5, "fontWeight": "bold", "color": "#333333"
          },
          "spacing": 60,
          "resolve": {"legend": {"color": "independent"}},
          "hconcat": [
            {
              "width": 457, "height": 475,
              "layer": [
                {
                  "data": {"name": "pressure"},
                  "transform": [{"filter": "datum.fuel === 'PRF 90'"}],
                  "mark": {"type": "line", "strokeWidth": 3.5, "interpolate": "monotone", "clip": true},
                  "encoding": {
                    "x": {"field": "angle", "type": "quantitative", "scale": {"domain": [-30, 50], "nice": false, "zero": false},
                          "axis": {"title": "Crank Angle [deg aTDC]", "values": [-20, 0, 20, 40]}},
                    "y": {"field": "pressure", "type": "quantitative", "scale": {"domain": [10, 48.4], "nice": false, "zero": false},
                          "axis": {"title": "Pressure [bar]", "values": [10, 15, 20, 25, 30, 35, 40, 45]}},
                    "color": {"field": "injection", "type": "nominal",
                              "scale": {"domain": ["Early DI", "80%-20% Split DI", "60%-40% Split DI"], "range": ["#e8141c", "#000000", "#0072bd"]},
                              "legend": {"orient": "none", "legendX": 88, "legendY": 380, "title": null,
                                         "symbolType": "M-3.4,0H3.4", "symbolSize": 400, "symbolStrokeWidth": 4, "symbolOffset": 24,
                                         "labelFont": "Liberation Sans", "labelFontSize": 22, "labelColor": "#000000", "labelLimit": 300, "labelOffset": 27,
                                         "strokeColor": "#000000", "fillColor": "#ffffff", "padding": 6, "rowPadding": 4}}
                  }
                },
                {
                  "data": {"values": [{"label": "PRF 90"}]},
                  "mark": {"type": "rect", "fill": "#ffffff", "stroke": "#000000", "strokeWidth": 2},
                  "encoding": {"x": {"datum": 21.0, "type": "quantitative"}, "x2": {"datum": 42.3}, "y": {"datum": 45.2, "type": "quantitative"}, "y2": {"datum": 41.1}}
                },
                {
                  "data": {"values": [{"label": "PRF 90"}]},
                  "mark": {"type": "text", "font": "Liberation Sans", "fontSize": 30, "align": "center", "baseline": "alphabetic", "color": "#000000"},
                  "encoding": {"x": {"datum": 31.5, "type": "quantitative"}, "y": {"datum": 42.2, "type": "quantitative"}, "text": {"field": "label"}}
                }
              ]
            },
            {
              "width": 457, "height": 475,
              "layer": [
                {
                  "data": {"name": "pressure"},
                  "transform": [{"filter": "datum.fuel === 'Ethanol'"}],
                  "mark": {"type": "line", "strokeWidth": 3.5, "interpolate": "monotone", "clip": true},
                  "encoding": {
                    "x": {"field": "angle", "type": "quantitative", "scale": {"domain": [-30, 50], "nice": false, "zero": false},
                          "axis": {"title": "Crank Angle [deg aTDC]", "values": [-20, 0, 20, 40]}},
                    "y": {"field": "pressure", "type": "quantitative", "scale": {"domain": [10, 48.4], "nice": false, "zero": false},
                          "axis": {"title": "Pressure [bar]", "values": [10, 15, 20, 25, 30, 35, 40, 45]}},
                    "color": {"field": "injection", "type": "nominal",
                              "scale": {"domain": ["Early DI", "80%-20% Split DI", "60%-40% Split DI"], "range": ["#e8141c", "#000000", "#0072bd"]},
                              "legend": {"orient": "none", "legendX": 88, "legendY": 380, "title": null,
                                         "symbolType": "M-3.4,0H3.4", "symbolSize": 400, "symbolStrokeWidth": 4, "symbolOffset": 24,
                                         "labelFont": "Liberation Sans", "labelFontSize": 22, "labelColor": "#000000", "labelLimit": 300, "labelOffset": 27,
                                         "strokeColor": "#000000", "fillColor": "#ffffff", "padding": 6, "rowPadding": 4}}
                  }
                },
                {
                  "data": {"values": [{"label": "Ethanol"}]},
                  "mark": {"type": "rect", "fill": "#ffffff", "stroke": "#000000", "strokeWidth": 2},
                  "encoding": {"x": {"datum": 21.5, "type": "quantitative"}, "x2": {"datum": 41.7}, "y": {"datum": 45.1, "type": "quantitative"}, "y2": {"datum": 41.1}}
                },
                {
                  "data": {"values": [{"label": "Ethanol"}]},
                  "mark": {"type": "text", "font": "Liberation Sans", "fontSize": 30, "align": "center", "baseline": "alphabetic", "color": "#000000"},
                  "encoding": {"x": {"datum": 31.5, "type": "quantitative"}, "y": {"datum": 42.2, "type": "quantitative"}, "text": {"field": "label"}}
                }
              ]
            }
          ]
        }
      ]
    }
  ],
  "config": {
    "font": "Liberation Sans",
    "view": {"stroke": "#333333", "strokeWidth": 1.5},
    "axis": {
      "labelFont": "Liberation Sans", "labelFontSize": 25, "labelColor": "#262626", "labelExpr": "'' + datum.value",
      "titleFont": "Liberation Sans", "titleFontSize": 26, "titleFontWeight": "normal", "titleColor": "#262626",
      "domainColor": "#333333", "domainWidth": 1.5, "gridColor": "#e0e0e0", "gridWidth": 1,
      "tickColor": "#333333", "tickSize": -6, "tickWidth": 1
    },
    "axisX": {"labelPadding": 24, "titlePadding": 8},
    "axisY": {"labelPadding": 17, "titlePadding": 13}
  }
}
